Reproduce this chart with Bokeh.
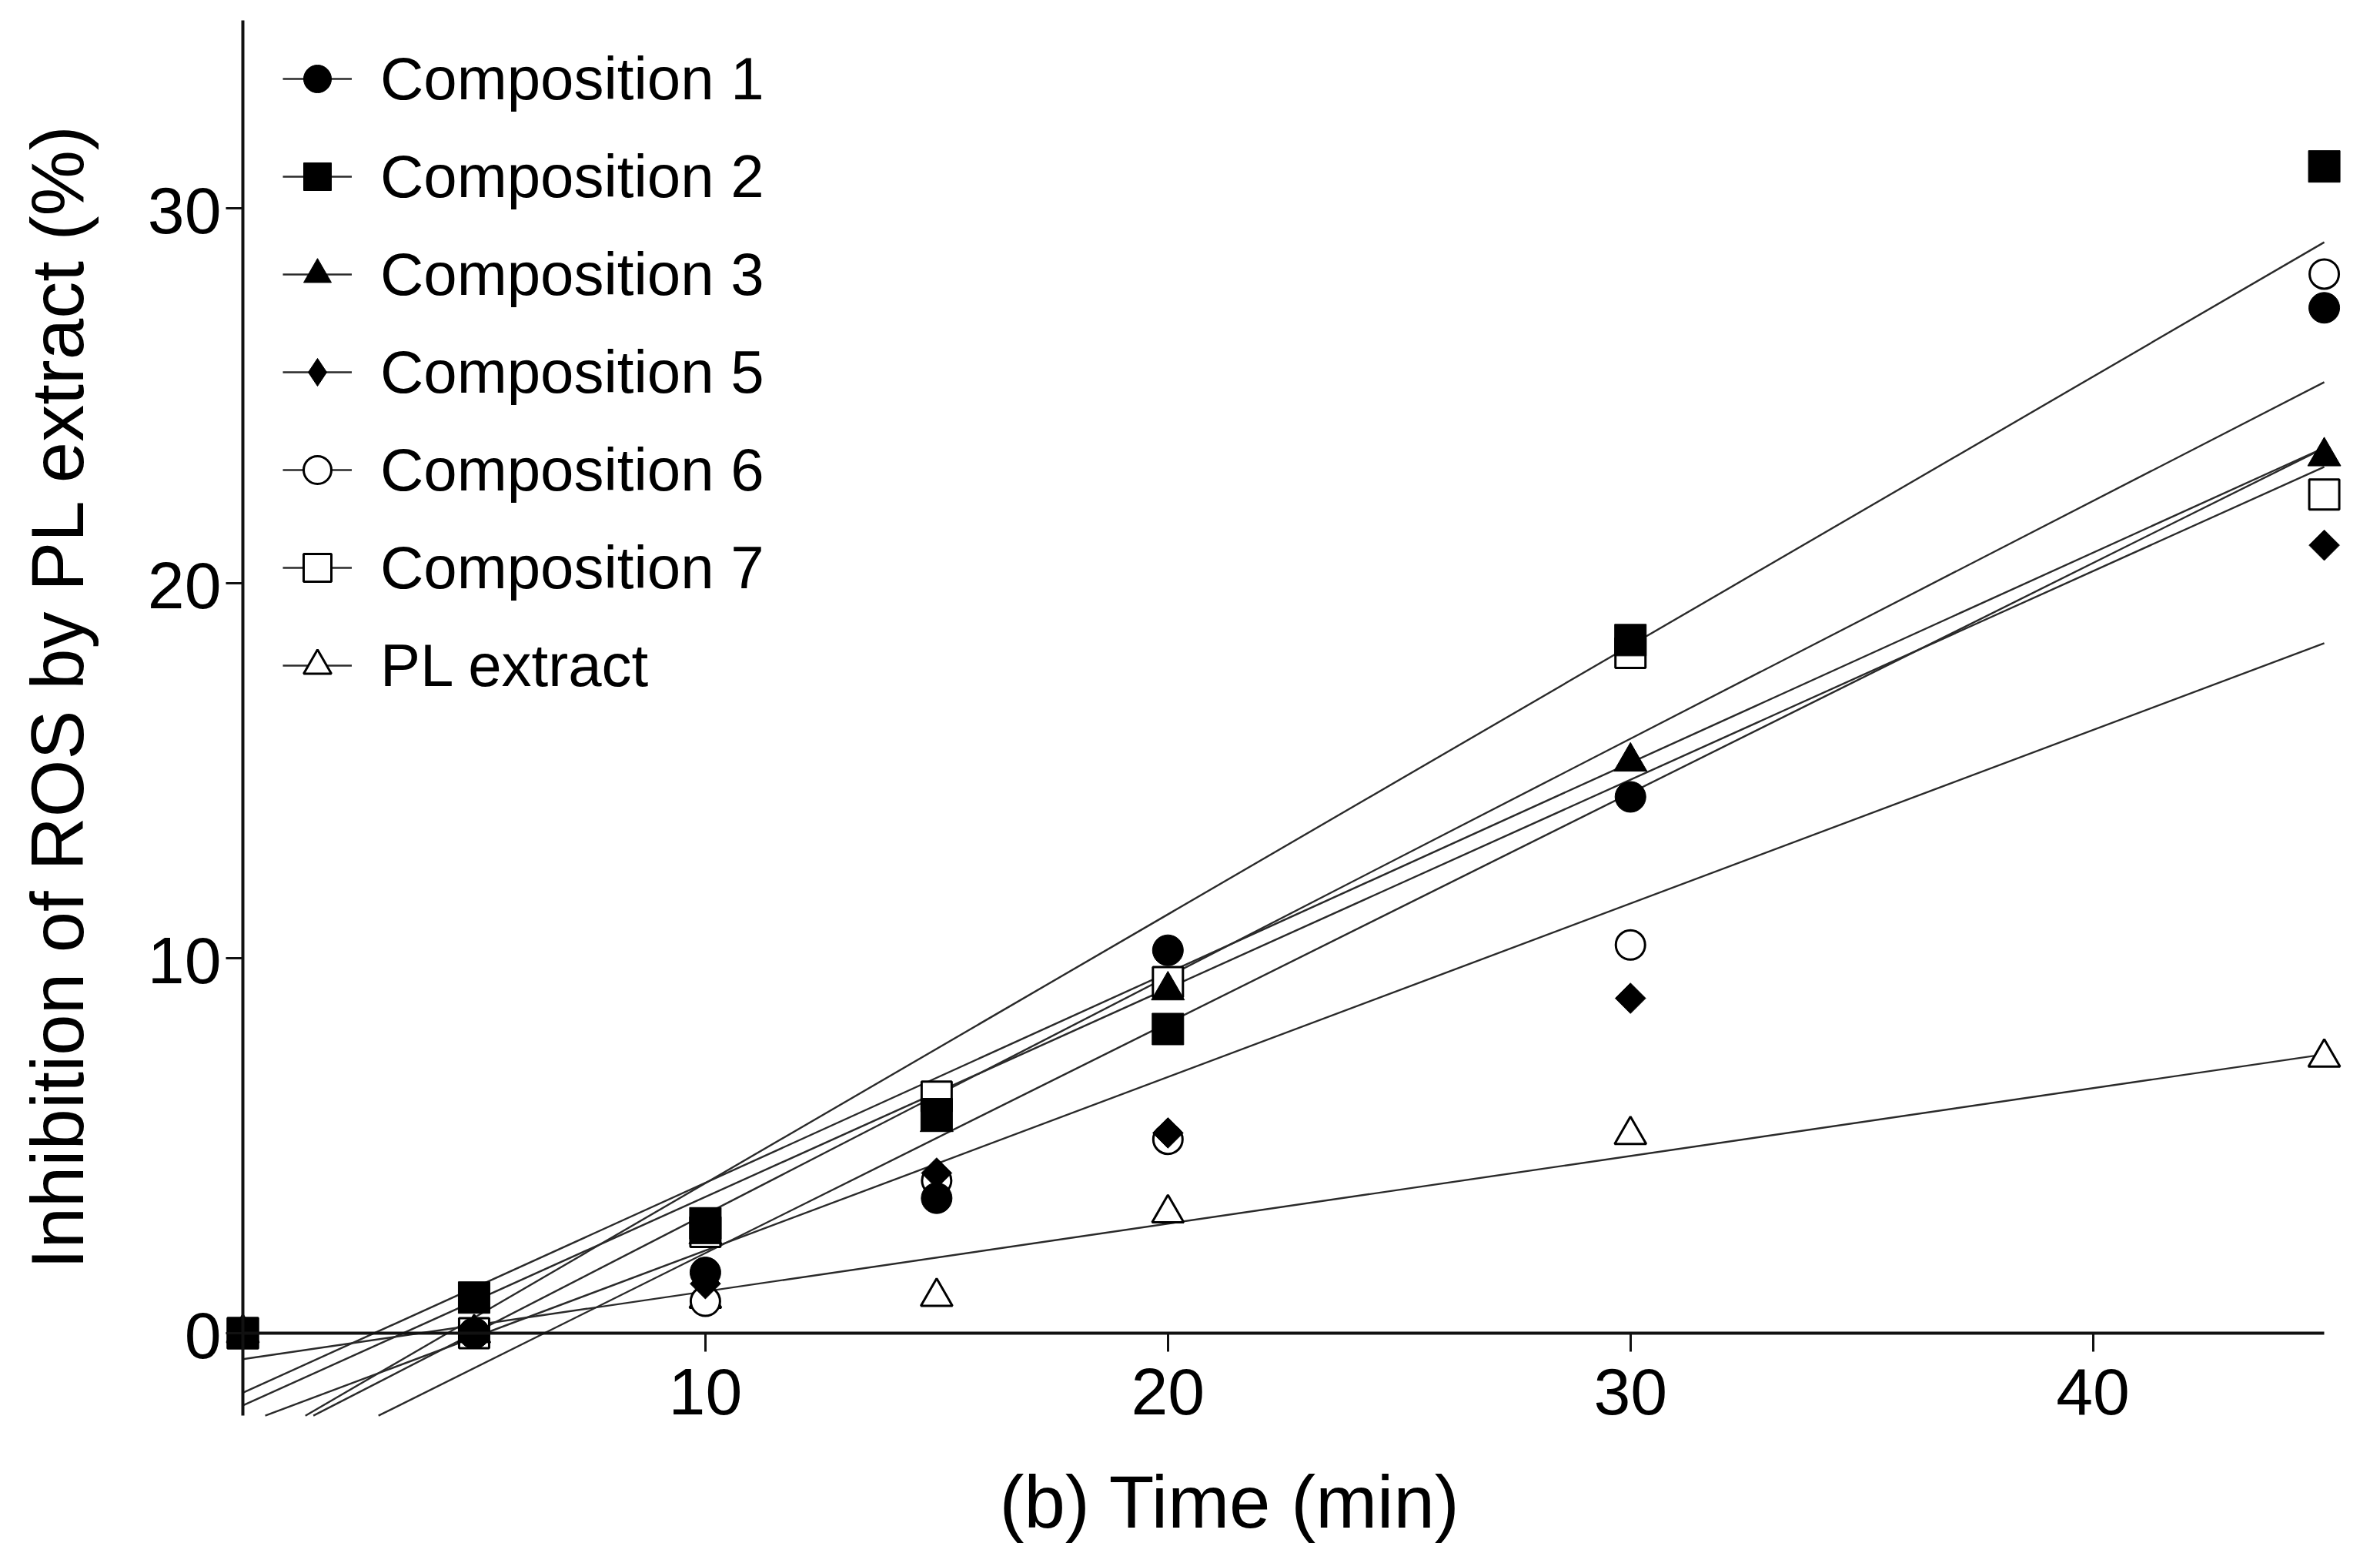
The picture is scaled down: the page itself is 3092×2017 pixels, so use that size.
import math
import numpy as np
from bokeh.plotting import figure
from bokeh.models import Range1d, FixedTicker, Legend, LegendItem, Label
from bokeh.core.properties import value
from bokeh.embed import file_html
from bokeh.resources import INLINE

# ---- data ----
times = [0, 5, 10, 15, 20, 30, 45]
comp1 = [0, 0, 1.62, 3.60, 10.21, 14.30, 27.34]
comp2 = [0, 0.95, 2.93, 5.84, 8.11, 18.48, 31.11]
comp3 = [0, 0, 2.64, 5.63, 9.14, 15.24, 23.38]
comp5 = [0, 0, 1.32, 4.27, 5.34, 8.93, 21.01]
comp6 = [0, 0, 0.85, 4.07, 5.17, 10.35, 28.24]
comp7 = [0, 0, 2.70, 6.31, 9.36, 18.14, 22.36]
pl_extract = [0, 0, 0.92, 0.97, 3.20, 5.29, 7.35]

names = ["Composition 1", "Composition 2", "Composition 3", "Composition 5",
         "Composition 6", "Composition 7", "PL extract"]
values = [comp1, comp2, comp3, comp5, comp6, comp7, pl_extract]

x_ticks = [10, 20, 30, 40]
y_ticks = [0, 10, 20, 30]
x_title = "(b) Time (min)"
y_title = "Inhibition of ROS by PL extract (%)"

X_AXIS_END = 45
Y_AXIS_MIN, Y_AXIS_MAX = -2.2, 35

FONT = "Liberation Sans"

# marker styles: (marker, size, fill, line_width, angle)
styles = {
    "Composition 1": ("circle", 40, "black", 1, 0.0),
    "Composition 2": ("square", 41, "black", 1, 0.0),
    "Composition 3": ("triangle", 43, "black", 1, 0.0),
    "Composition 5": ("square", 28, "black", 1, math.pi / 4),
    "Composition 6": ("circle", 38, "white", 3, 0.0),
    "Composition 7": ("square", 39, "white", 3, 0.0),
    "PL extract": ("triangle", 41, "white", 3, 0.0),
}

p = figure(width=3076, height=2009, output_backend="svg", toolbar_location=None,
           x_range=Range1d(-5.0757, 45.781), y_range=Range1d(-5.666, 35.373),
           min_border_left=10, min_border_right=10, min_border_top=8,
           min_border_bottom=2)
p.outline_line_color = None
p.grid.visible = False
p.background_fill_color = "white"
p.border_fill_color = "white"

# axes: lines and ticks from Bokeh, crossing at the origin
for ax, ticks, tlen in ((p.xaxis[0], x_ticks, 24), (p.yaxis[0], y_ticks, 22)):
    ax.fixed_location = 0
    ax.ticker = FixedTicker(ticks=ticks)
    ax.major_tick_out = 0
    ax.major_tick_in = -tlen          # draws the tick outward without reserving space
    ax.minor_tick_out = 0
    ax.minor_tick_in = 0
    ax.minor_tick_line_color = None
    ax.axis_line_width = 4
    ax.axis_line_color = "#111111"
    ax.major_tick_line_width = 3
    ax.major_tick_line_color = "#111111"
    ax.major_label_text_font_size = "0px"
    ax.major_label_text_color = None
    ax.major_label_standoff = 0
p.xaxis[0].bounds = (0, X_AXIS_END)
p.yaxis[0].bounds = (Y_AXIS_MIN, Y_AXIS_MAX)

# tick labels placed at the tick values
p.text(x=x_ticks, y=[0] * len(x_ticks), text=[str(t) for t in x_ticks],
       text_align="center", text_baseline="alphabetic", y_offset=76,
       text_font=value(FONT), text_font_size=value("86px"), text_color="black")
p.text(x=[0] * len(y_ticks), y=y_ticks, text=[str(t) for t in y_ticks],
       text_align="right", text_baseline="alphabetic", x_offset=-28, y_offset=3,
       text_font=value(FONT), text_font_size=value("86px"), text_color="black")

# ---- linear regression lines (cut at the bottom of the y axis) ----
line_renderers = {}
for name, vals in zip(names, values):
    slope, intercept = np.polyfit(times, vals, 1)
    x0 = times[0]
    if intercept + slope * x0 < Y_AXIS_MIN:
        x0 = (Y_AXIS_MIN - intercept) / slope
    xs = [x0, times[-1]]
    ys = [intercept + slope * xv for xv in xs]
    line_renderers[name] = p.line(xs, ys, line_color="#2a2a2a", line_width=2.4)

# ---- markers (open symbols first, filled on top) ----
draw_order = ["PL extract", "Composition 7", "Composition 6", "Composition 5",
              "Composition 3", "Composition 1", "Composition 2"]
scatter_renderers = {}
for name in draw_order:
    vals = values[names.index(name)]
    marker, size, fill, lw, ang = styles[name]
    scatter_renderers[name] = p.scatter(times, vals, marker=marker, size=size,
                                        angle=ang, fill_color=fill,
                                        line_color="black", line_width=lw)

# legend-only diamond (legend glyphs are never rotated)
legend_diamond = p.scatter([float("nan")], [float("nan")], marker="diamond",
                           fill_color="black", line_color="black", line_width=1)

items = []
for name in names:
    if name == "Composition 5":
        rs = [line_renderers[name], legend_diamond]
    else:
        rs = [line_renderers[name], scatter_renderers[name]]
    items.append(LegendItem(label=name, renderers=rs))

# location is measured from the frame's bottom-left corner
legend = Legend(items=items, location=(357, 1092.6), glyph_width=90, glyph_height=100,
                spacing=27, padding=0, margin=0, label_standoff=37,
                label_text_font=FONT, label_text_font_size="78px",
                label_text_color="black",
                border_line_color=None, background_fill_alpha=0)
p.add_layout(legend)

# ---- axis titles ----
p.add_layout(Label(x=21.343, y=-4.490, text=x_title, text_align="center",
                   text_baseline="alphabetic", text_font=FONT,
                   text_font_size="96px", text_color="black"))
p.add_layout(Label(x=-4.016, y=16.99, text=y_title, angle=math.pi / 2,
                   text_align="center", text_baseline="alphabetic",
                   text_font=FONT, text_font_size="96px", text_color="black"))

open("out.html", "w").write(file_html(p, INLINE))
